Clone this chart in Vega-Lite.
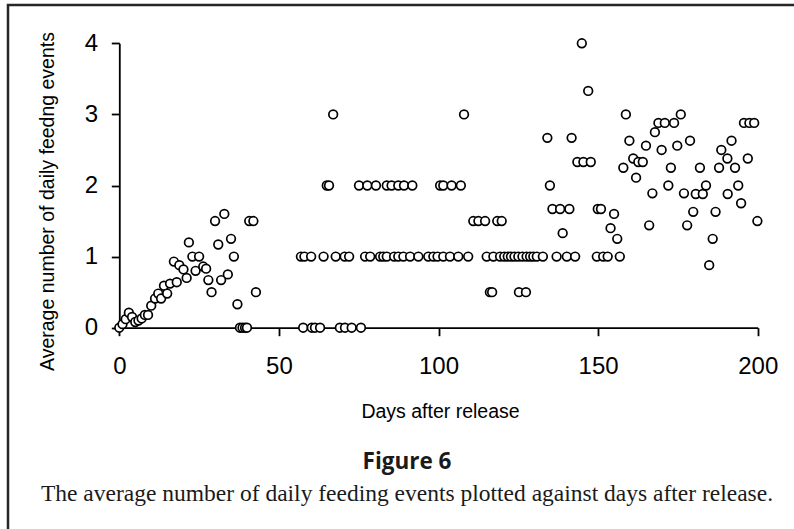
{
  "$schema": "https://vega.github.io/schema/vega-lite/v6.json",
  "width": 800,
  "height": 540,
  "autosize": {"type": "none"},
  "padding": {"left": 8, "top": 5, "right": 0, "bottom": 0},
  "background": "white",
  "config": {
    "view": {"stroke": "#262626", "strokeWidth": 2.5},
    "font": "Liberation Sans"
  },
  "title": {
    "text": "Figure 6",
    "subtitle": "The average number of daily feeding events plotted against days after release.",
    "orient": "top",
    "anchor": "middle",
    "frame": "group",
    "offset": 0,
    "dx": -1,
    "dy": 500,
    "font": "Open Sans",
    "fontSize": 22.5,
    "fontWeight": "bold",
    "color": "#1a1a1a",
    "subtitleFont": "Liberation Serif",
    "subtitleFontSize": 23.5,
    "subtitleColor": "#1a1a1a",
    "subtitlePadding": 8
  },
  "data": {
    "values": [
      {"day": 0, "feeds": 0}, {"day": 1, "feeds": 0.05}, {"day": 2, "feeds": 0.12}, {"day": 3, "feeds": 0.21},
      {"day": 4, "feeds": 0.15}, {"day": 5, "feeds": 0.08}, {"day": 6, "feeds": 0.1}, {"day": 7, "feeds": 0.13},
      {"day": 8, "feeds": 0.18}, {"day": 9, "feeds": 0.18}, {"day": 10, "feeds": 0.31}, {"day": 11.2, "feeds": 0.41},
      {"day": 12.2, "feeds": 0.48}, {"day": 13.1, "feeds": 0.41}, {"day": 14, "feeds": 0.59}, {"day": 15, "feeds": 0.48},
      {"day": 15.9, "feeds": 0.62}, {"day": 17.1, "feeds": 0.93}, {"day": 18, "feeds": 0.64}, {"day": 18.8, "feeds": 0.88},
      {"day": 20.1, "feeds": 0.82}, {"day": 21.1, "feeds": 0.7}, {"day": 21.8, "feeds": 1.2}, {"day": 22.9, "feeds": 1},
      {"day": 23.9, "feeds": 0.8}, {"day": 25, "feeds": 1}, {"day": 26.3, "feeds": 0.86}, {"day": 27.2, "feeds": 0.83},
      {"day": 27.9, "feeds": 0.67}, {"day": 28.9, "feeds": 0.5}, {"day": 30, "feeds": 1.5}, {"day": 31, "feeds": 1.17},
      {"day": 31.9, "feeds": 0.67}, {"day": 32.9, "feeds": 1.6}, {"day": 34, "feeds": 0.75}, {"day": 35, "feeds": 1.25},
      {"day": 35.9, "feeds": 1}, {"day": 37, "feeds": 0.33}, {"day": 37.8, "feeds": 0}, {"day": 38.6, "feeds": 0},
      {"day": 39.4, "feeds": 0}, {"day": 40, "feeds": 0}, {"day": 40.7, "feeds": 1.5}, {"day": 42, "feeds": 1.5},
      {"day": 42.8, "feeds": 0.5},
      {"day": 57.6, "feeds": 0}, {"day": 60.3, "feeds": 0}, {"day": 61.3, "feeds": 0}, {"day": 62.9, "feeds": 0},
      {"day": 69.1, "feeds": 0}, {"day": 70.7, "feeds": 0}, {"day": 72.8, "feeds": 0}, {"day": 75.7, "feeds": 0},
      {"day": 56.9, "feeds": 1}, {"day": 58, "feeds": 1}, {"day": 60.1, "feeds": 1}, {"day": 64, "feeds": 1},
      {"day": 67.8, "feeds": 1}, {"day": 70.6, "feeds": 1}, {"day": 72, "feeds": 1}, {"day": 77, "feeds": 1},
      {"day": 78.6, "feeds": 1}, {"day": 81.7, "feeds": 1}, {"day": 82.7, "feeds": 1}, {"day": 83.8, "feeds": 1},
      {"day": 86.1, "feeds": 1}, {"day": 87.4, "feeds": 1}, {"day": 89, "feeds": 1}, {"day": 91.1, "feeds": 1},
      {"day": 93.7, "feeds": 1}, {"day": 96.8, "feeds": 1}, {"day": 98.4, "feeds": 1}, {"day": 99.7, "feeds": 1},
      {"day": 101.5, "feeds": 1}, {"day": 103.6, "feeds": 1}, {"day": 106.2, "feeds": 1}, {"day": 109.3, "feeds": 1},
      {"day": 115.1, "feeds": 1}, {"day": 117.2, "feeds": 1}, {"day": 119.3, "feeds": 1}, {"day": 120.6, "feeds": 1},
      {"day": 121.7, "feeds": 1}, {"day": 122.7, "feeds": 1}, {"day": 123.8, "feeds": 1}, {"day": 125, "feeds": 1},
      {"day": 126.3, "feeds": 1}, {"day": 127.6, "feeds": 1}, {"day": 128.7, "feeds": 1}, {"day": 129.7, "feeds": 1},
      {"day": 130.8, "feeds": 1}, {"day": 132.7, "feeds": 1}, {"day": 137, "feeds": 1}, {"day": 140.2, "feeds": 1},
      {"day": 142.8, "feeds": 1}, {"day": 149.6, "feeds": 1}, {"day": 151.6, "feeds": 1}, {"day": 153, "feeds": 1},
      {"day": 156.8, "feeds": 1},
      {"day": 116.1, "feeds": 0.5}, {"day": 116.8, "feeds": 0.5}, {"day": 125.2, "feeds": 0.5}, {"day": 127.4, "feeds": 0.5},
      {"day": 110.9, "feeds": 1.5}, {"day": 112.5, "feeds": 1.5}, {"day": 114.6, "feeds": 1.5}, {"day": 118.4, "feeds": 1.5},
      {"day": 119.8, "feeds": 1.5},
      {"day": 65, "feeds": 2}, {"day": 65.7, "feeds": 2}, {"day": 75.1, "feeds": 2}, {"day": 77.7, "feeds": 2},
      {"day": 80.4, "feeds": 2}, {"day": 83.8, "feeds": 2}, {"day": 85.3, "feeds": 2}, {"day": 87.4, "feeds": 2},
      {"day": 89.2, "feeds": 2}, {"day": 91.8, "feeds": 2}, {"day": 100.5, "feeds": 2}, {"day": 101.5, "feeds": 2},
      {"day": 104.1, "feeds": 2}, {"day": 107, "feeds": 2},
      {"day": 67, "feeds": 3}, {"day": 108, "feeds": 3},
      {"day": 134.1, "feeds": 2.67}, {"day": 134.9, "feeds": 2}, {"day": 135.7, "feeds": 1.67}, {"day": 138.1, "feeds": 1.67},
      {"day": 138.9, "feeds": 1.33}, {"day": 141, "feeds": 1.67}, {"day": 141.7, "feeds": 2.67}, {"day": 143.5, "feeds": 2.33},
      {"day": 144.9, "feeds": 4}, {"day": 145.4, "feeds": 2.33}, {"day": 146.9, "feeds": 3.33}, {"day": 147.7, "feeds": 2.33},
      {"day": 149.9, "feeds": 1.67}, {"day": 150.9, "feeds": 1.67}, {"day": 153.9, "feeds": 1.4}, {"day": 155, "feeds": 1.6},
      {"day": 156, "feeds": 1.25}, {"day": 157.9, "feeds": 2.25}, {"day": 158.7, "feeds": 3}, {"day": 159.8, "feeds": 2.63},
      {"day": 161, "feeds": 2.38}, {"day": 161.9, "feeds": 2.11}, {"day": 162.6, "feeds": 2.33}, {"day": 164, "feeds": 2.33},
      {"day": 165, "feeds": 2.56}, {"day": 166, "feeds": 1.44}, {"day": 167, "feeds": 1.89}, {"day": 167.8, "feeds": 2.75},
      {"day": 168.9, "feeds": 2.88}, {"day": 169.9, "feeds": 2.5}, {"day": 170.9, "feeds": 2.88}, {"day": 172, "feeds": 2},
      {"day": 172.8, "feeds": 2.25}, {"day": 173.8, "feeds": 2.88}, {"day": 174.8, "feeds": 2.56}, {"day": 175.9, "feeds": 3},
      {"day": 176.9, "feeds": 1.89}, {"day": 177.9, "feeds": 1.44}, {"day": 178.8, "feeds": 2.63}, {"day": 179.8, "feeds": 1.63},
      {"day": 180.6, "feeds": 1.88}, {"day": 181.9, "feeds": 2.25}, {"day": 182.8, "feeds": 1.88}, {"day": 183.8, "feeds": 2},
      {"day": 184.8, "feeds": 0.88}, {"day": 185.9, "feeds": 1.25}, {"day": 186.8, "feeds": 1.63}, {"day": 187.9, "feeds": 2.25},
      {"day": 188.6, "feeds": 2.5}, {"day": 190.5, "feeds": 2.38}, {"day": 190.6, "feeds": 1.88}, {"day": 191.8, "feeds": 2.63},
      {"day": 192.9, "feeds": 2.25}, {"day": 193.9, "feeds": 2}, {"day": 194.8, "feeds": 1.75}, {"day": 195.7, "feeds": 2.88},
      {"day": 196.9, "feeds": 2.38}, {"day": 197.4, "feeds": 2.88}, {"day": 198.9, "feeds": 2.88}, {"day": 199.9, "feeds": 1.5}
    ]
  },
  "mark": {
    "type": "point",
    "shape": "circle",
    "filled": true,
    "fill": "white",
    "stroke": "black",
    "strokeWidth": 1.7,
    "size": 75,
    "opacity": 1
  },
  "encoding": {
    "x": {
      "field": "day",
      "type": "quantitative",
      "scale": {"domain": [0, 200], "range": [111.3, 749.7], "nice": false, "zero": false},
      "axis": {
        "title": "Days after release",
        "values": [0, 50, 100, 150, 200],
        "offset": -217.3,
        "grid": false,
        "domainColor": "black",
        "domainWidth": 1.8,
        "tickColor": "black",
        "tickWidth": 1.8,
        "tickSize": 8,
        "labelFont": "Liberation Sans",
        "labelFontSize": 24,
        "labelColor": "black",
        "labelPadding": 19,
        "labelFlush": false,
        "titleFont": "Liberation Sans",
        "titleFontSize": 19.5,
        "titleFontWeight": "normal",
        "titleColor": "black",
        "titleX": 432,
        "titleY": 90,
        "titleBaseline": "alphabetic",
        "titleAlign": "center"
      }
    },
    "y": {
      "field": "feeds",
      "type": "quantitative",
      "scale": {"domain": [0, 4], "range": [322.7, 38.3], "nice": false, "zero": false},
      "axis": {
        "title": "Average number of daily feedng events",
        "values": [0, 1, 2, 3, 4],
        "offset": -111.3,
        "grid": false,
        "domainColor": "black",
        "domainWidth": 1.8,
        "tickColor": "black",
        "tickWidth": 1.8,
        "tickSize": 8,
        "labelFont": "Liberation Sans",
        "labelFontSize": 24,
        "labelColor": "black",
        "labelPadding": 13.6,
        "labelFlush": false,
        "titleFont": "Liberation Sans",
        "titleFontSize": 19.5,
        "titleFontWeight": "normal",
        "titleColor": "black",
        "titleAngle": 270,
        "titleX": -66,
        "titleY": 196,
        "titleBaseline": "alphabetic",
        "titleAlign": "center"
      }
    }
  }
}
